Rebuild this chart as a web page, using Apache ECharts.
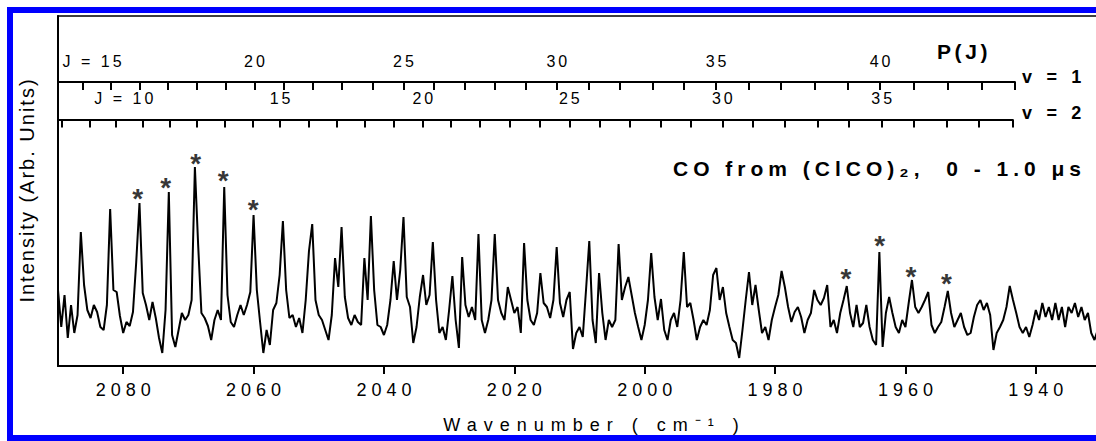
<!DOCTYPE html>
<html>
<head>
<meta charset="utf-8">
<script src="https://cdn.jsdelivr.net/npm/echarts@6/dist/echarts.min.js"></script>
<style>
html,body{margin:0;padding:0;background:#fff;}
#chart{width:1096px;height:441px;}
</style>
</head>
<body>
<div id="chart"></div>
<script>
// ---------------- data ----------------
// spectrum sampled every 0.5 cm-1 starting at 2090 cm-1 (intensity in arb. units)
const WN_START = 2090;
const WN_STEP = -0.5;
const intensity = [
 76,39,71,28,61,33,51,134,81,56,
 48,61,54,39,36,61,157,76,74,50,
 33,44,40,54,104,163,73,61,46,64,
 48,28,13,56,174,31,19,36,53,46,
 51,66,199,121,53,48,40,26,46,56,
 46,179,71,44,39,51,61,51,61,74,
 151,76,44,13,36,21,56,63,91,145,
 76,48,51,39,48,33,66,115,142,66,
 51,46,36,26,51,108,79,139,69,48,
 41,51,44,41,108,66,150,76,41,39,
 31,41,66,105,66,96,149,69,59,23,
 39,69,91,61,71,124,66,33,39,26,
 56,90,46,18,109,61,49,59,46,132,
 46,33,46,66,132,66,53,46,79,66,
 53,59,33,123,66,46,41,53,93,63,
 59,48,66,119,63,49,66,74,17,33,
 39,29,76,125,46,23,93,53,26,46,
 39,46,122,66,79,89,71,53,39,26,
 41,66,113,69,46,67,36,26,46,53,
 39,66,114,59,63,46,26,39,46,41,
 56,91,98,66,79,53,39,26,23,8,
 36,66,94,61,81,56,33,39,26,46,
 59,71,95,79,59,44,54,59,49,33,
 46,53,76,66,61,68,81,39,46,33,
 53,66,80,53,39,61,39,43,61,39,
 26,21,114,19,53,69,53,39,33,46,
 39,63,86,59,53,59,66,74,41,33,
 39,44,59,75,53,39,46,53,39,31,
 33,49,61,66,56,63,51,16,33,39,
 46,59,80,66,53,39,33,39,29,41,
 56,46,63,49,59,46,63,46,59,39,
 59,53,63,49,59,46,53,33,26,36,41
];

// bottom axis tick labels (cm-1)
const xTickValues = [2080, 2060, 2040, 2020, 2000, 1980, 1960, 1940];

// P(J) line positions, v = 1 band
const v1J  = [14,15,16,17,18,19,20,21,22,23,24,25,26,27,28,29,30,31,32,33,34,35,36,37,38,39,40,41,42,43,44];
const v1Wn = [2086.24,2081.84,2077.50,2073.15,2068.70,2064.31,2059.87,2055.42,2050.97,2046.46,
              2041.77,2037.02,2032.42,2027.66,2022.96,2018.25,2013.50,2008.65,2003.90,1998.78,
              1994.08,1989.07,1984.12,1979.10,1973.99,1968.87,1963.92,1958.81,1953.54,1948.33,1943.22];
const v1LabelJ = [15, 20, 25, 30, 35, 40];

// P(J) line positions, v = 2 band
const v2J  = [7,8,9,10,11,12,13,14,15,16,17,18,19,20,21,22,23,24,25,26,27,28,29,30,31,32,33,34,35,36,37,38,39];
const v2Wn = [2089.40,2085.17,2081.07,2076.98,2072.79,2068.70,2064.47,2060.17,2055.93,2051.59,
              2047.23,2042.89,2038.55,2034.04,2029.70,2025.26,2020.66,2016.06,2011.56,2006.96,
              2002.25,1997.50,1992.90,1988.10,1983.50,1978.59,1973.47,1968.67,1963.66,1958.71,
              1953.69,1948.69,1943.57];
const v2LabelJ = [10, 15, 20, 25, 30, 35];

// asterisk markers (position, intensity)
const starWn = [2077.78, 2073.48, 2068.88, 2064.65, 2060.05, 1969.14, 1963.93, 1959.17, 1953.70];
const starI  = [174, 185, 209, 192, 163, 94, 127, 96, 89];

// texts
const titleText = 'CO from (ClCO)\u2082,  0 - 1.0 \u03bcs';
const xName = 'Wavenumber ( cm\u207b\u00b9 )';
const yName = 'Intensity (Arb. Units)';

// ---------------- chart ----------------
const FONT = '"Liberation Sans", Arial, Helvetica, sans-serif';
const spectrum = intensity.map((v, i) => [WN_START + WN_STEP * i, v]);
const v1LabelWn = v1LabelJ.map(j => v1Wn[v1J.indexOf(j)]);
const v2LabelWn = v2LabelJ.map(j => v2Wn[v2J.indexOf(j)]);

function jFormatter(wns, js, firstJ) {
  return function (val) {
    let k = 0, best = Infinity;
    wns.forEach((w, i) => { const d = Math.abs(w - val); if (d < best) { best = d; k = i; } });
    const j = js[k];
    return j === firstJ ? 'J = ' + j : String(j);
  };
}

function jAxis(gridIndex, wns, labelWns, js, firstJ) {
  return {
    gridIndex: gridIndex,
    type: 'value',
    position: 'top',
    inverse: true,
    min: wns[wns.length - 1],
    max: WN_START,
    axisLine: { show: true, lineStyle: { color: '#000', width: 1.8 } },
    axisTick: { show: true, inside: true, length: 8, customValues: wns, lineStyle: { color: '#000', width: 2 } },
    axisLabel: { show: true, inside: false, margin: 3, customValues: labelWns,
                 formatter: jFormatter(wns, js, firstJ),
                 fontFamily: FONT, fontSize: 16, color: '#000' },
    splitLine: { show: false }
  };
}

const chart = echarts.init(document.getElementById('chart'), null, { renderer: 'svg' });

const option = {
  animation: false,
  backgroundColor: '#fff',
  textStyle: { fontFamily: FONT },
  grid: [
    { left: 58, right: -5, top: 16, bottom: 75, show: true, borderColor: '#000', borderWidth: 1.5,
      backgroundColor: 'transparent', containLabel: false, outerBoundsMode: 'none' },
    { left: 58, right: 81, top: 72, height: 10, containLabel: false, outerBoundsMode: 'none' },
    { left: 58, right: 83.4, top: 109.5, height: 10, containLabel: false, outerBoundsMode: 'none' }
  ],
  xAxis: [
    {
      gridIndex: 0,
      type: 'value',
      inverse: true,
      min: 1930,
      max: WN_START,
      axisLine: { show: true, lineStyle: { color: '#000', width: 2 } },
      axisTick: { show: true, length: 8, customValues: xTickValues, lineStyle: { color: '#000', width: 2 } },
      axisLabel: { show: true, margin: 15, customValues: xTickValues, formatter: v => String(v),
                   fontFamily: FONT, fontSize: 18, color: '#000' },
      splitLine: { show: false },
      name: xName,
      nameLocation: 'middle',
      nameGap: 50,
      nameTextStyle: { fontFamily: FONT, fontSize: 18, color: '#000', padding: [0, 0, 0, 23] }
    },
    jAxis(1, v1Wn, v1LabelWn, v1J, v1LabelJ[0]),
    jAxis(2, v2Wn, v2LabelWn, v2J, v2LabelJ[0])
  ],
  yAxis: [
    {
      gridIndex: 0,
      type: 'value',
      min: 0,
      max: 350,
      axisLine: { show: true, lineStyle: { color: '#000', width: 2 } },
      axisTick: { show: false },
      axisLabel: { show: false },
      splitLine: { show: false },
      name: yName,
      nameLocation: 'middle',
      nameGap: 21,
      nameRotate: 90,
      nameTextStyle: { fontFamily: FONT, fontSize: 20, color: '#000' }
    },
    { gridIndex: 1, type: 'value', min: 0, max: 1, show: false },
    { gridIndex: 2, type: 'value', min: 0, max: 1, show: false }
  ],
  series: [
    {
      type: 'line',
      xAxisIndex: 0,
      yAxisIndex: 0,
      data: spectrum,
      showSymbol: false,
      symbol: 'none',
      lineStyle: { color: '#000', width: 2 },
      clip: true,
      z: 3
    },
    {
      type: 'scatter',
      xAxisIndex: 0,
      yAxisIndex: 0,
      data: starWn.map((w, i) => [w, starI[i]]),
      symbolSize: 1,
      itemStyle: { color: 'rgba(0,0,0,0)' },
      label: { show: true, formatter: '*', position: 'inside', offset: [0, 6],
               fontFamily: FONT, fontSize: 28, fontWeight: 'bold', color: '#000' },
      z: 4
    }
  ],
  graphic: [
    { type: 'rect', silent: true, z: 100,
      shape: { x: 10, y: 10, width: 1200, height: 428 },
      style: { fill: 'transparent', stroke: '#0000ff', lineWidth: 6 } },
    { type: 'text', silent: true, x: 937, y: 51,
      style: { text: 'P(J)', font: 'bold 21px ' + FONT, fill: '#000',
               align: 'left', verticalAlign: 'middle', textAlign: 'left', textVerticalAlign: 'middle' } },
    { type: 'text', silent: true, x: 1022, y: 77,
      style: { text: 'v = 1', font: 'bold 18px ' + FONT, fill: '#000',
               align: 'left', verticalAlign: 'middle', textAlign: 'left', textVerticalAlign: 'middle' } },
    { type: 'text', silent: true, x: 1022, y: 113,
      style: { text: 'v = 2', font: 'bold 18px ' + FONT, fill: '#000',
               align: 'left', verticalAlign: 'middle', textAlign: 'left', textVerticalAlign: 'middle' } },
    { type: 'text', silent: true, x: 673, y: 168,
      style: { text: titleText, font: 'bold 21px ' + FONT, fill: '#000',
               align: 'left', verticalAlign: 'middle', textAlign: 'left', textVerticalAlign: 'middle' } }
  ]
};

chart.setOption(option);

// letter spacing of the original typesetting
function spacingFor(s) {
  if (s === '*') return 0;
  if (/^\d{4}$/.test(s)) return 5;
  if (/^(J = )?\d{1,2}$/.test(s)) return 3;
  if (s.indexOf('Wavenumber') === 0) return 7;
  if (s.indexOf('Intensity') === 0) return 2;
  if (s.indexOf('CO from') === 0) return 5;
  if (s === 'P(J)') return 3.6;
  if (/^v = \d$/.test(s)) return 4.7;
  return 0;
}
function applySpacing() {
  document.querySelectorAll('#chart svg text').forEach(t => {
    const s = t.textContent;
    const ls = spacingFor(s);
    t.style.letterSpacing = ls + 'px';
    const anchor = t.getAttribute('text-anchor') || 'start';
    let dx = 0;
    if (s.indexOf('J = ') === 0) {
      let p = 0;
      try { p = t.getSubStringLength(0, 4); } catch (e) { p = 0; }
      dx = -(p - ls) / 2;
    } else if (anchor === 'middle') {
      dx = ls / 2;
    } else if (anchor === 'end') {
      dx = ls;
    }
    t.setAttribute('dx', dx);
  });
}
chart.on('finished', applySpacing);
setTimeout(applySpacing, 0);
setTimeout(applySpacing, 200);
</script>
</body>
</html>
